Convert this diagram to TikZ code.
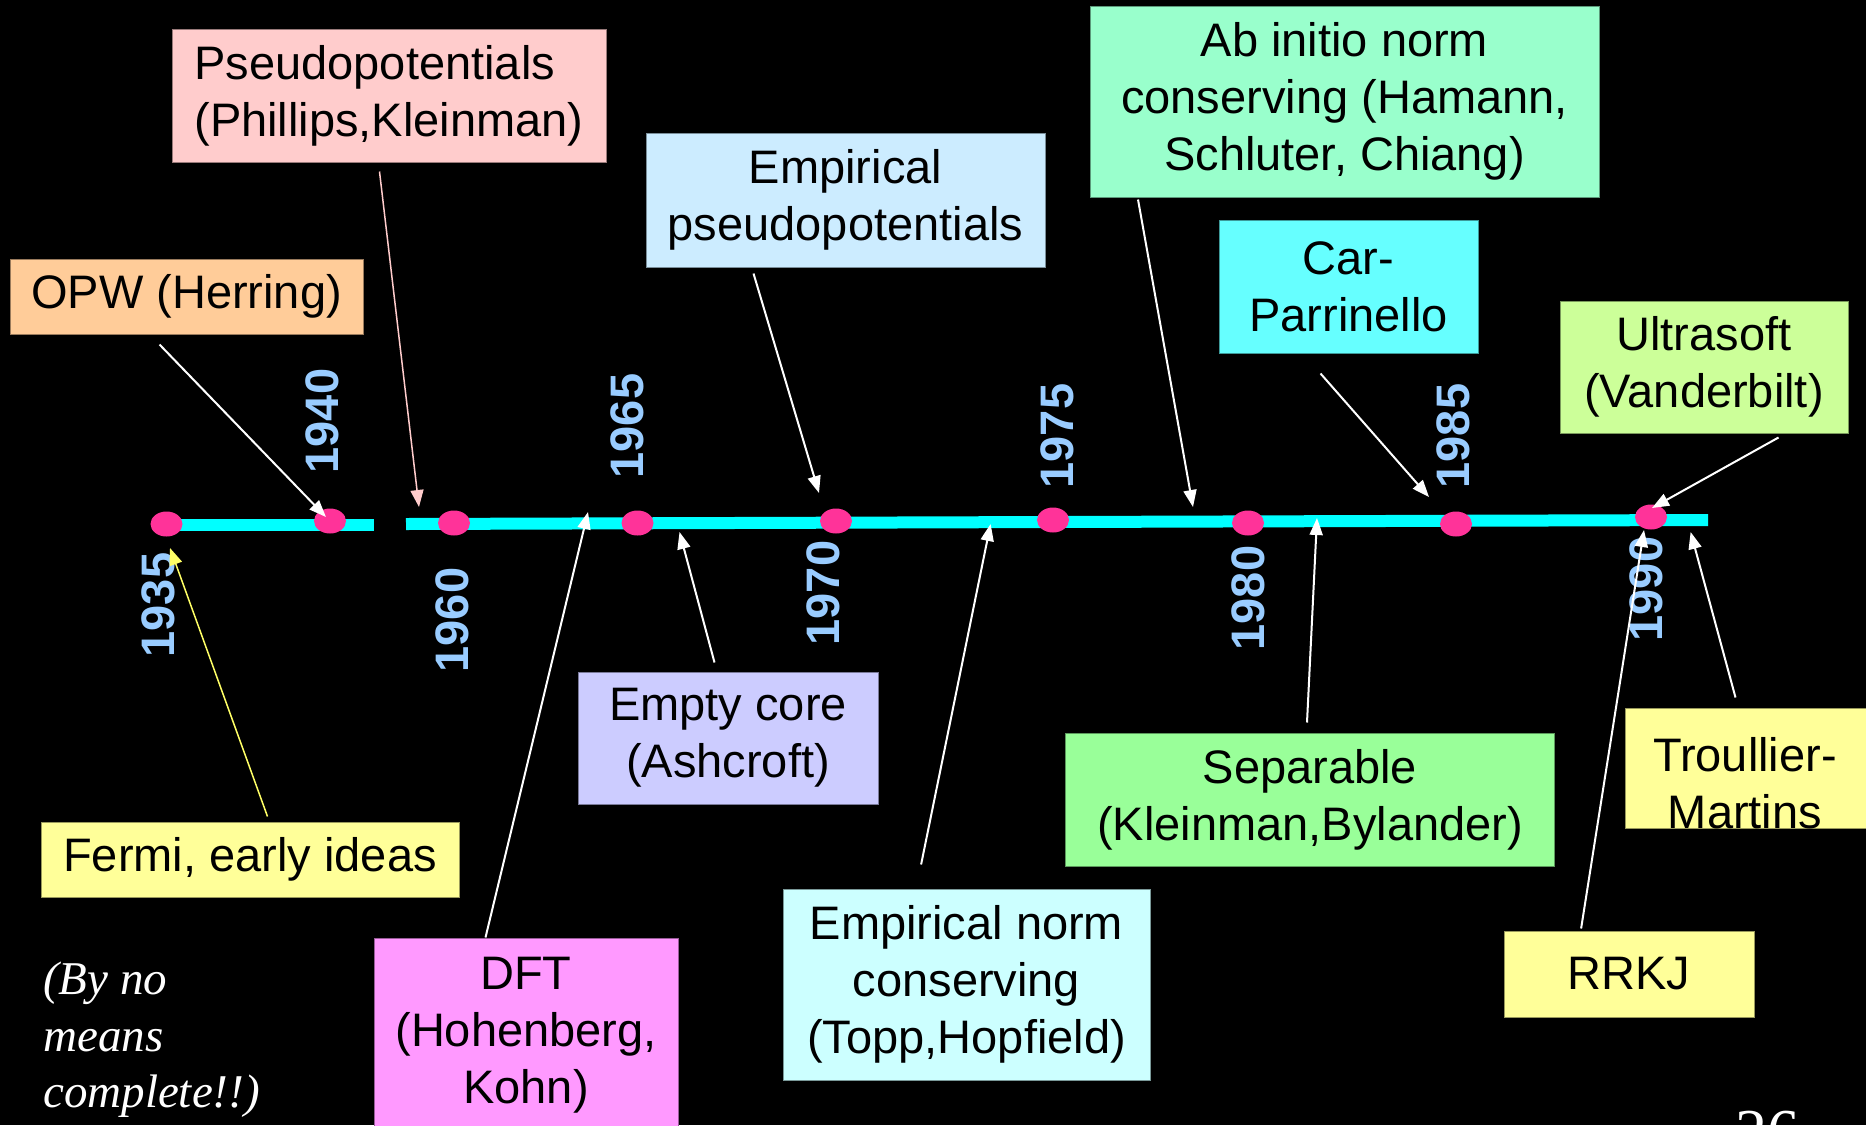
\documentclass[tikz,border=0pt]{standalone}
\usepackage{fontspec}
\setmainfont{Liberation Sans}
\newfontfamily\timesfam{Liberation Serif}
\usetikzlibrary{arrows.meta,shapes.geometric,calc}
\definecolor{cOPW}{HTML}{FFCC99}
\definecolor{cPseudo}{HTML}{FFCCCC}
\definecolor{cEmp}{HTML}{CCECFF}
\definecolor{cAb}{HTML}{99FFCC}
\definecolor{cCar}{HTML}{66FFFF}
\definecolor{cUltra}{HTML}{CCFF99}
\definecolor{cFermi}{HTML}{FFFF99}
\definecolor{cEmpty}{HTML}{CCCCFF}
\definecolor{cDFT}{HTML}{FF99FF}
\definecolor{cNorm}{HTML}{CCFFFF}
\definecolor{cSep}{HTML}{99FF99}
\definecolor{cLine}{HTML}{00FFFF}
\definecolor{cDot}{HTML}{FF3399}
\definecolor{cYear}{HTML}{99CCFF}
\definecolor{cPinkArr}{HTML}{FFCCCC}
\definecolor{cYelArr}{HTML}{FFFF66}
\begin{document}
\begin{tikzpicture}[x=1pt,y=-1pt,
  box/.style={rectangle, draw=#1!60!black, fill=#1, line width=1pt, inner sep=2pt,
    text=black, font=\fontsize{47}{57}\selectfont},
  boxtext/.style={inner sep=0pt, text=black, font=\fontsize{47}{57}\selectfont},
  dot/.style={ellipse, fill=cDot, minimum width=32pt, minimum height=25pt, inner sep=0pt},
  yr/.style={rotate=90, inner sep=0pt, text=cYear, font=\bfseries\fontsize{47}{47}\selectfont},
  tl/.style={cLine, line width=12pt},
  arr/.style={line width=2pt, -{Triangle[length=17pt,width=13pt]}},
  warr/.style={arr, white},
  parr/.style={arr, cPinkArr, line width=1.5pt},
  yarr/.style={arr, cYelArr, line width=1.5pt}
]
\clip (0,0) rectangle (1866,1125);
\fill[black] (0,0) rectangle (1866,1125);

% timeline
\draw[tl] (170,525) -- (374,525);
\draw[tl] (406,524) -- (1708,520);

% dots
\node[dot] (d1935) at (166.5,524) {};
\node[dot] (d1940) at (330,521) {};
\node[dot] (d1960) at (454,523) {};
\node[dot] (d1965) at (637.5,523) {};
\node[dot] (d1970) at (836,521) {};
\node[dot] (d1975) at (1053,520) {};
\node[dot] (d1980) at (1248,523) {};
\node[dot] (d1985) at (1456,524) {};
\node[dot] (d1990) at (1651,517) {};

% years
\node[yr] (y1935) at (158.5,605) {1935};
\node[yr] (y1940) at (322,421) {1940};
\node[yr] (y1960) at (452,620) {1960};
\node[yr] (y1965) at (627,426) {1965};
\node[yr] (y1970) at (823,593) {1970};
\node[yr] (y1975) at (1057.6,436) {1975};
\node[yr] (y1980) at (1248,598) {1980};
\node[yr] (y1985) at (1453,436) {1985};
\node[yr] (y1990) at (1646,589) {1990};

% boxes
\node[box=cPseudo, minimum width=434pt, minimum height=133pt, align=left] (pseudo) at (389,95.5) {Pseudopotentials\\(Phillips,Kleinman)};
\node[box=cOPW, minimum width=353pt, minimum height=75pt, align=center] (opw) at (186.5,296.5) {OPW (Herring)};
\node[box=cEmp, minimum width=399pt, minimum height=134pt, align=center] (emp) at (845.5,200) {Empirical\\pseudopotentials};
\node[box=cAb, minimum width=509pt, minimum height=191pt, align=center] (abin) at (1344.5,101.5) {Ab initio norm\\conserving (Hamann,\\Schluter, Chiang)};
\node[box=cCar, minimum width=259pt, minimum height=133pt, align=center] (car) at (1348.5,286.5) {Car-\\Parrinello};
\node[box=cUltra, minimum width=288pt, minimum height=132pt, align=center] (ultra) at (1704,367) {Ultrasoft\\(Vanderbilt)};
\node[box=cFermi, minimum width=418pt, minimum height=75pt, align=center] (fermi) at (250,859.5) {Fermi, early ideas};
\node[box=cEmpty, minimum width=300pt, minimum height=132pt, align=center] (empty) at (728,738) {Empty core\\(Ashcroft)};
\node[box=cDFT, minimum width=304pt, minimum height=195pt, align=center] (dft) at (526,1035.5) {DFT\\(Hohenberg,\\Kohn)};
\node[box=cNorm, minimum width=367pt, minimum height=191pt, align=center] (norm) at (966.5,984.5) {Empirical norm\\conserving\\(Topp,Hopfield)};
\node[box=cSep, minimum width=489pt, minimum height=133pt, align=center] (sep) at (1310,799.5) {Separable\\(Kleinman,Bylander)};
\node[box=cFermi, minimum width=250pt, minimum height=86pt, align=center] (rrkj) at (1629,974) {RRKJ};
\node[box=cFermi, minimum width=245pt, minimum height=120pt] (trou) at (1747.5,768) {};
\node[boxtext, align=center] (troutxt) at (1745,783.5) {Troullier-\\Martins};

% note and page number
\node[anchor=north west, inner sep=0pt, text=white, align=left,
  font=\timesfam\itshape\fontsize{47}{56.5}\selectfont] (note) at (43,962) {(By no\\means\\complete!!)};
\node[anchor=base west, inner sep=0pt, text=white,
  font=\timesfam\fontsize{64}{64}\selectfont] (page) at (1735,1153) {26};

% arrow tips
\coordinate (tOPW) at (326,517);
\coordinate (tPseudo) at (419,507);
\coordinate (tEmp) at (819,493);
\coordinate (tAb) at (1193,507);
\coordinate (tCar) at (1429,497);
\coordinate (tUltra) at (1652,508);
\coordinate (tFermi) at (170,548);
\coordinate (tDFT) at (588,512);
\coordinate (tEmpty) at (679.5,532);
\coordinate (tNorm) at (990.6,524);
\coordinate (tSep) at (1317,518);
\coordinate (tRRKJ) at (1644,530);
\coordinate (tTrou) at (1690.6,532);

% arrows
\draw[warr] ($(opw.south west)+(150,10)$) -- (tOPW);
\draw[parr] ($(pseudo.south west)+(208,9)$) -- (tPseudo);
\draw[warr] ($(emp.south west)+(108,6)$) -- (tEmp);
\draw[warr] ($(abin.south west)+(48.5,2)$) -- (tAb);
\draw[warr] ($(car.south west)+(102,20)$) -- (tCar);
\draw[warr] ($(ultra.south west)+(219,4)$) -- (tUltra);
\draw[yarr] ($(fermi.north west)+(227,-5)$) -- (tFermi);
\draw[warr] ($(dft.north west)+(112,0)$) -- (tDFT);
\draw[warr] ($(empty.north west)+(137,-9)$) -- (tEmpty);
\draw[warr] ($(norm.north west)+(138.6,-24)$) -- (tNorm);
\draw[warr] ($(sep.north west)+(242,-10)$) -- (tSep);
\draw[warr] ($(rrkj.north west)+(77.6,-2)$) -- (tRRKJ);
\draw[warr] ($(trou.north west)+(111,-10)$) -- (tTrou);
\end{tikzpicture}
\end{document}
